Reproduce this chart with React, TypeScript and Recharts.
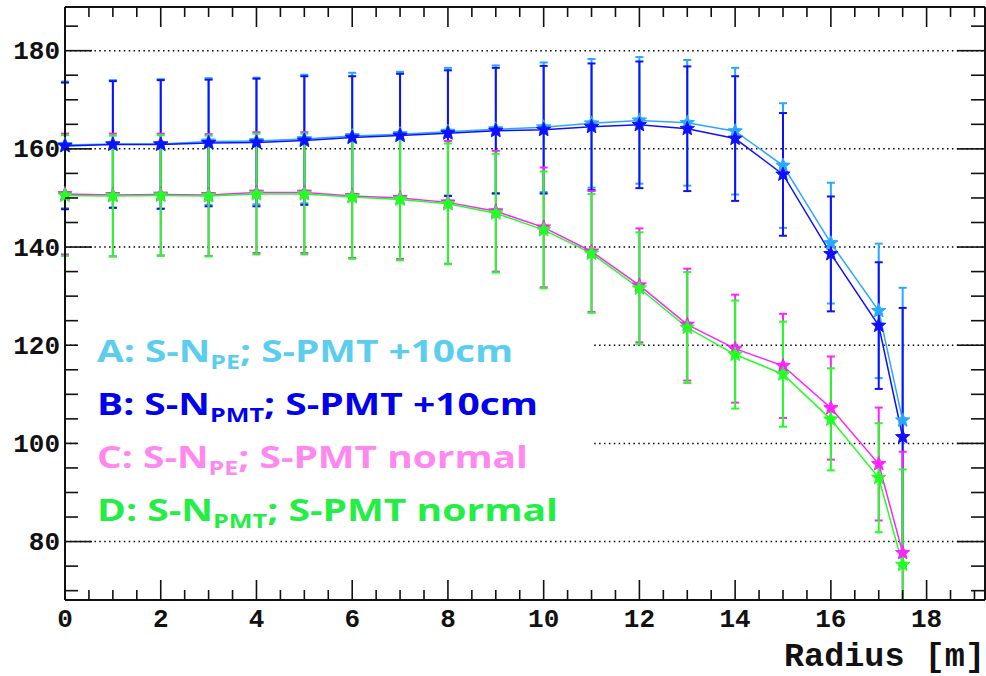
import { LineChart, Line, XAxis, YAxis, ErrorBar, ReferenceLine } from 'recharts';

// radius [m]
const radius = [0, 1, 2, 3, 4, 5, 6, 7, 8, 9, 10, 11, 12, 13, 14, 15, 16, 17, 17.5];

// A: S-N_PE; S-PMT +10cm
const peShifted = [160.8, 161.0, 161.0, 161.5, 161.6, 162.0, 162.6, 163.0, 163.5, 164.0, 164.4, 165.2, 165.8, 165.3, 163.6, 156.6, 140.8, 127.0, 104.7];
const peShiftedErr = [12.9, 13.0, 13.2, 12.9, 12.9, 13.1, 12.9, 12.7, 13.0, 13.0, 13.2, 13.1, 12.9, 12.8, 12.9, 12.7, 12.3, 13.7, 27.0];
// B: S-N_PMT; S-PMT +10cm
const pmtShifted = [160.6, 160.9, 160.9, 161.2, 161.3, 161.7, 162.3, 162.7, 163.2, 163.7, 163.9, 164.5, 164.9, 164.1, 162.1, 154.8, 138.6, 124.0, 101.3];
const pmtShiftedErr = [12.9, 12.9, 13.1, 12.9, 13.0, 13.1, 12.5, 12.6, 12.8, 12.8, 13.0, 12.9, 12.9, 12.7, 12.7, 12.5, 11.7, 12.9, 26.3];
// C: S-N_PE; S-PMT normal
const peNormal = [150.8, 150.6, 150.7, 150.6, 151.1, 151.1, 150.4, 150.0, 149.1, 147.3, 144.0, 139.1, 132.2, 124.2, 119.3, 115.8, 107.2, 95.8, 77.7];
const peNormalErr = [12.3, 12.5, 12.4, 12.4, 12.3, 12.3, 12.6, 12.4, 12.5, 12.3, 12.2, 12.3, 11.6, 11.4, 11.0, 10.6, 10.5, 11.5, 20.6];
// D: S-N_PMT; S-PMT normal
const pmtNormal = [150.5, 150.4, 150.5, 150.4, 150.8, 150.8, 150.2, 149.7, 148.8, 146.9, 143.5, 138.7, 131.6, 123.6, 118.1, 114.1, 104.9, 93.0, 75.3];
const pmtNormalErr = [12.3, 12.3, 12.3, 12.3, 12.3, 12.3, 12.6, 12.4, 12.3, 12.1, 11.9, 12.1, 11.4, 11.3, 11.0, 10.7, 10.4, 11.1, 19.4];

const xLabels = [0, 2, 4, 6, 8, 10, 12, 14, 16, 18];
const yLabels = [80, 100, 120, 140, 160, 180];
const xTicks = Array.from({ length: 39 }, (_, i) => i * 0.5);
const yTicks = Array.from({ length: 24 }, (_, i) => 70 + i * 5);

const legendItems = [
  { head: 'A: S-N', sub: 'PE', tail: '; S-PMT +10cm', color: '#5bcdee', len: 416 },
  { head: 'B: S-N', sub: 'PMT', tail: '; S-PMT +10cm', color: '#0000ee', len: 441 },
  { head: 'C: S-N', sub: 'PE', tail: '; S-PMT normal', color: '#ff88f0', len: 431 },
  { head: 'D: S-N', sub: 'PMT', tail: '; S-PMT normal', color: '#22ee44', len: 461 },
];

const Y_MIN = 68.1;
const Y_MAX = 188.9;
const X_MAX = 19.22;

// errors are clipped at the bottom of the frame, like the original plot
const clipErr = (v: number, e: number) => [Math.min(e, v - Y_MIN), e];

const data = radius.map((r, i) => ({
  r,
  a: peShifted[i], aErr: clipErr(peShifted[i], peShiftedErr[i]),
  b: pmtShifted[i], bErr: clipErr(pmtShifted[i], pmtShiftedErr[i]),
  c: peNormal[i], cErr: clipErr(peNormal[i], peNormalErr[i]),
  d: pmtNormal[i], dErr: clipErr(pmtNormal[i], pmtNormalErr[i]),
}));

const tickFont = { fontFamily: '"Liberation Mono", monospace', fontWeight: 700, fontSize: 26, fill: '#111' };
const frame = { stroke: '#111', strokeWidth: 2 };

const isX = (v: number) => Math.abs(v / 2 - Math.round(v / 2)) < 1e-6;
const isY = (v: number) => v % 20 === 0;

const BottomTick = (p: any) => {
  const v = p.payload.value;
  return (
    <g>
      <line x1={p.x} x2={p.x} y1={p.y} y2={p.y - (isX(v) ? 20 : 10)} stroke="#111" strokeWidth={1.6} />
      {xLabels.includes(v) && (
        <text x={p.x} y={p.y + 27} textAnchor="middle" style={tickFont}>{v}</text>
      )}
    </g>
  );
};

const TopTick = (p: any) => {
  const v = p.payload.value;
  return <line x1={p.x} x2={p.x} y1={p.y} y2={p.y + (isX(v) ? 20 : 10)} stroke="#111" strokeWidth={1.6} />;
};

const LeftTick = (p: any) => {
  const v = p.payload.value;
  return (
    <g>
      <line x1={p.x} x2={p.x + (isY(v) ? 27 : 13)} y1={p.y} y2={p.y} stroke="#111" strokeWidth={1.6} />
      {yLabels.includes(v) && (
        <text x={p.x - 5} y={p.y + 8.5} textAnchor="end" style={tickFont}>{v}</text>
      )}
    </g>
  );
};

const RightTick = (p: any) => {
  const v = p.payload.value;
  return <line x1={p.x} x2={p.x - (isY(v) ? 28 : 14)} y1={p.y} y2={p.y} stroke="#111" strokeWidth={1.6} />;
};

const star = (color: string) => (p: any) => {
  const { cx, cy, index } = p;
  const pts: string[] = [];
  for (let k = 0; k < 10; k++) {
    const rad = k % 2 === 0 ? 7.5 : 3.2;
    const ang = -Math.PI / 2 + (k * Math.PI) / 5;
    pts.push(`${cx + rad * Math.cos(ang)},${cy + rad * Math.sin(ang)}`);
  }
  return <polygon key={`s-${color}-${index}`} points={pts.join(' ')} fill={color} stroke={color} strokeWidth={1} />;
};

const RadiusLabel = (p: any) => {
  const vb = p.viewBox;
  return (
    <text x={vb.x + vb.width} y={vb.y + 66} textAnchor="end"
      style={{ fontFamily: '"Liberation Mono", monospace', fontWeight: 700, fontSize: 33.5, fill: '#111' }}>
      Radius [m]
    </text>
  );
};

const series = [
  { key: 'a', err: 'aErr', color: '#2aa8ff' },
  { key: 'b', err: 'bErr', color: '#1010ff' },
  { key: 'c', err: 'cErr', color: '#ff22ff' },
  { key: 'd', err: 'dErr', color: '#22ff22' },
];

export default function App() {
  return (
    <div style={{ position: 'absolute', left: 0, top: 0, width: 986, height: 676, background: '#fff' }}>
      <LineChart width={986} height={676} data={data} margin={{ top: 6, right: 0, bottom: 0, left: 5 }}>
        <XAxis xAxisId="x" dataKey="r" type="number" domain={[0, X_MAX]} ticks={xTicks} interval={0}
          height={76} tickSize={0} tickMargin={0} tickLine={false} axisLine={frame} tick={BottomTick}
          label={<RadiusLabel />} />
        <XAxis xAxisId="top" orientation="top" dataKey="r" type="number" domain={[0, X_MAX]} ticks={xTicks}
          interval={0} height={1} tickSize={0} tickMargin={0} tickLine={false} axisLine={frame} tick={TopTick} />
        <YAxis yAxisId="y" type="number" domain={[Y_MIN, Y_MAX]} allowDataOverflow ticks={yTicks} interval={0}
          width={60} tickSize={0} tickMargin={0} tickLine={false} axisLine={frame} tick={LeftTick} />
        <YAxis yAxisId="right" orientation="right" type="number" domain={[Y_MIN, Y_MAX]} allowDataOverflow
          ticks={yTicks} interval={0} width={1} tickSize={0} tickMargin={0} tickLine={false} axisLine={frame}
          tick={RightTick} />
        {yLabels.map((v) => (
          <ReferenceLine key={v} xAxisId="x" yAxisId="y" y={v} stroke="#000" strokeWidth={1.5}
            strokeDasharray="1.5 3.4" />
        ))}
        {series.map((s) => (
          <Line key={s.key} xAxisId="x" yAxisId="y" type="linear" dataKey={s.key} stroke={s.color}
            strokeWidth={1.5} dot={star(s.color)} activeDot={false} isAnimationActive={false}>
            <ErrorBar dataKey={s.err} direction="y" width={4} stroke={s.color} strokeWidth={2}
              isAnimationActive={false} />
          </Line>
        ))}
      </LineChart>
      <svg width={986} height={676} style={{ position: 'absolute', left: 0, top: 0, pointerEvents: 'none' }}>
        <rect x={78} y={318} width={514} height={212} fill="#fff" />
        {legendItems.map((item, i) => (
          <text key={item.head + i} x={97} y={361.5 + i * 53.3} fill={item.color} textLength={item.len}
            lengthAdjust="spacingAndGlyphs"
            style={{ fontFamily: '"Open Sans", sans-serif', fontWeight: 700, fontSize: 31 }}>
            {item.head}
            <tspan fontSize={20} dy={7}>{item.sub}</tspan>
            <tspan dy={-7}>{item.tail}</tspan>
          </text>
        ))}
      </svg>
    </div>
  );
}
